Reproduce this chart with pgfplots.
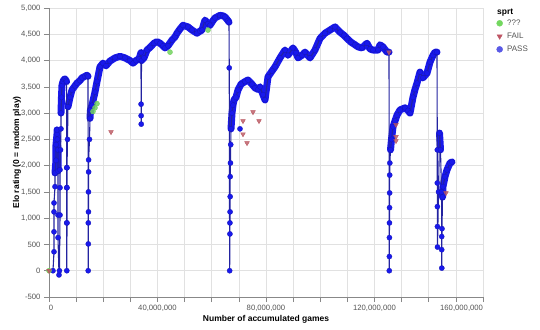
\documentclass[border=0pt]{standalone}
\usepackage{fontspec}
\setmainfont{Liberation Sans}
\usepackage{pgfplots}
\pgfplotsset{compat=1.18}
\definecolor{passblue}{RGB}{25,25,235}
\definecolor{passedge}{RGB}{20,20,185}
\definecolor{linenavy}{RGB}{35,35,160}
\definecolor{failred}{RGB}{185,85,95}
\definecolor{unkgreen}{RGB}{115,210,95}
\definecolor{gridgray}{RGB}{225,225,225}
\definecolor{axgray}{RGB}{136,136,136}
\definecolor{labgray}{RGB}{85,85,85}
\definecolor{legblue}{RGB}{90,90,230}
\definecolor{legred}{RGB}{190,85,100}
\definecolor{leggreen}{RGB}{115,215,95}
\begin{document}
\begin{tikzpicture}[x=1pt,y=1pt]
\begin{axis}[
  scale only axis, width=434pt, height=289pt,
  xmin=0, xmax=160, ymin=-500, ymax=5000,
  axis lines=left, axis line style={-, axgray, line width=0.8pt},
  xtick={0,40,80,120,160},
  xticklabels={{\makebox[0pt][l]{0}},{40,000,000},{80,000,000},{120,000,000},{\makebox[0pt][r]{160,000,000}}},
  minor xtick={10,20,30,50,60,70,90,100,110,130,140,150},
  ytick={-500,0,...,5000},
  yticklabels={-500,0,500,{1,000},{1,500},{2,000},{2,500},{3,000},{3,500},{4,000},{4,500},{5,000}},
  grid=both, grid style={gridgray, line width=0.6pt}, minor grid style={gridgray, line width=0.6pt},
  tick align=outside, major tick length=5pt, minor tick length=5pt,
  tick style={axgray, line width=0.6pt},
  ticklabel style={font=\fontsize{7.7}{9}\selectfont, text=labgray},
  xlabel={Number of accumulated games}, ylabel={Elo rating (0 = random play)},
  label style={font=\fontsize{8.5}{10}\selectfont\bfseries},
  xlabel style={at={([yshift=-22pt]axis description cs:0.5,0)}, anchor=center},
  ylabel style={at={([xshift=-32pt]axis description cs:0,0.5)}, anchor=center},
  clip=false,
  legend style={draw=none, fill=none, at={(rel axis cs:1.031,0.967)}, anchor=north west,
    inner sep=0pt, row sep=2pt, column sep=2.5pt, font=\fontsize{8}{9.5}\selectfont, text=labgray},
  legend cell align=left,
]
% dense bands
\addplot[passblue, line width=7pt, line join=round, line cap=round, forget plot] coordinates {
(2.21,1860)(2.58,2100)(2.58,2400)(2.95,2600)(2.95,2680)(3.10,2500)(3.32,2300)(3.32,1900)};
\addplot[passblue, line width=7pt, line join=round, line cap=round, forget plot] coordinates {
(4.42,3000)(4.60,3300)(4.79,3530)(5.16,3600)(5.53,3640)(5.90,3650)(6.27,3620)(6.50,3600)};
\addplot[passblue, line width=7pt, line join=round, line cap=round, forget plot] coordinates {
(7.00,3120)(7.74,3300)(8.48,3440)(9.59,3520)(10.32,3570)(11.43,3620)(12.17,3670)(13.27,3700)(14.01,3720)(14.38,3700)};
\addplot[passblue, line width=7pt, line join=round, line cap=round, forget plot] coordinates {
(15.12,2900)(15.30,3060)(15.85,3150)(16.96,3400)(17.70,3600)(18.80,3880)(19.91,3950)(21.01,3900)(22.49,3990)
(24.33,4050)(26.18,4080)(28.02,4050)(29.86,4000)(30.97,3950)(32.07,4000)(33.18,4030)(33.92,4150)(34.10,4000)
(35.02,4050)(36.13,4200)(37.24,4250)(38.71,4330)(39.82,4360)(40.92,4330)(42.03,4280)(42.76,4240)(43.87,4280)
(45.35,4390)(46.45,4450)(47.19,4520)(48.29,4600)(49.40,4670)(51.24,4640)(52.72,4580)(54.56,4520)(55.67,4560)
(56.41,4580)(57.51,4770)(58.62,4700)(59.35,4670)(60.46,4760)(61.20,4810)(63.04,4860)(64.15,4850)(64.88,4830)
(65.99,4760)(66.36,4730)};
\addplot[passblue, line width=7pt, line join=round, line cap=round, forget plot] coordinates {
(67.10,2700)(67.47,3000)(67.83,3150)(68.20,3250)(68.94,3300)(69.68,3440)(70.78,3550)(72.26,3600)(73.36,3630)
(74.84,3550)(75.94,3480)(77.05,3450)(77.79,3500)(78.89,3350)(79.63,3250)(80.74,3690)(82.21,3800)(83.32,3880)
(85.16,4050)(87.00,4200)(88.11,4100)(89.95,4240)(91.06,4150)(91.80,4050)(93.27,4100)(94.38,4160)(96.22,4050)
(98.06,4200)(99.91,4420)(101.75,4520)(103.59,4580)(105.44,4640)(107.28,4540)(108.76,4480)(109.86,4420)
(111.34,4350)(112.81,4300)(113.92,4260)(115.39,4240)(117.24,4330)(118.34,4220)(119.45,4200)(121.29,4200)
(122.03,4300)(123.13,4260)(124.61,4160)(125.35,4160)};
\addplot[passblue, line width=7pt, line join=round, line cap=round, forget plot] coordinates {
(125.90,2300)(126.27,2500)(126.82,2740)(127.56,2850)(128.29,2960)(129.40,3060)(131.24,3100)(132.35,3050)
(133.09,3000)(134.19,3300)(134.93,3450)(135.67,3570)(136.77,3780)(137.88,3670)(139.35,3760)(140.46,3970)
(141.57,4100)(142.30,4160)(143.04,4160)};
\addplot[passblue, line width=7pt, line join=round, line cap=round, forget plot] coordinates {
(143.97,2620)(144.33,2300)};
\addplot[passblue, line width=7pt, line join=round, line cap=round, forget plot] coordinates {
(145.07,1400)(145.25,1600)(145.99,1790)(146.73,1920)(147.83,2050)(148.57,2070)};
% main PASS line with points
\addplot[linenavy, line width=1.1pt, mark=*, mark size=2.6pt,
  mark options={fill=passblue, draw=passedge, line width=0.3pt}, forget plot] coordinates {
(1.47,0)(1.84,360)(1.84,740)(1.84,1120)(1.84,1290)(2.21,1600)(2.21,1860)(2.58,2100)(2.58,2400)(2.95,2600)
(2.95,2680)(3.10,2500)(3.32,2300)(3.32,1900)(3.32,1060)(3.32,630)(3.69,-80)(3.85,0)(4.06,1060)(4.06,1580)
(4.06,1920)(4.25,2300)(4.42,2700)(4.42,3000)(4.60,3300)(4.79,3530)(5.16,3600)(5.53,3640)(5.90,3650)(6.27,3620)
(6.50,3600)(6.53,1960)(6.53,1580)(6.53,910)(6.56,0)
(6.64,910)(6.64,1580)(6.64,1960)(6.82,2500)(7.00,3120)(7.74,3300)(8.48,3440)(9.59,3520)(10.32,3570)(11.43,3620)
(12.17,3670)(13.27,3700)(14.01,3720)(14.38,3700)(14.45,0)
(14.49,510)(14.49,910)(14.55,1120)(14.55,1500)(14.60,1880)(14.60,2110)(14.93,2500)(15.12,2900)(15.30,3060)
(15.85,3150)(16.96,3400)(17.70,3600)(18.80,3880)(19.91,3950)(21.01,3900)(22.49,3990)(24.33,4050)(26.18,4080)
(28.02,4050)(29.86,4000)(30.97,3950)(32.07,4000)(33.18,4030)(33.92,4150)(33.95,3170)(33.97,2950)(34.00,2790)
(34.10,4000)(35.02,4050)(36.13,4200)(37.24,4250)(38.71,4330)(39.82,4360)(40.92,4330)(42.03,4280)(42.76,4240)
(43.87,4280)(45.35,4390)(46.45,4450)(47.19,4520)(48.29,4600)(49.40,4670)(51.24,4640)(52.72,4580)(54.56,4520)
(55.67,4560)(56.41,4580)(57.51,4770)(58.62,4700)(59.35,4670)(60.46,4760)(61.20,4810)(63.04,4860)(64.15,4850)
(64.88,4830)(65.99,4760)(66.36,4730)(66.45,3860)(66.60,0)
(66.70,700)(66.70,910)(66.75,1120)(66.80,1410)(66.80,1790)(66.90,2050)(67.00,2400)(67.10,2700)(67.47,3000)
(67.83,3150)(68.20,3250)(68.94,3300)(69.68,3440)(70.78,3550)(72.26,3600)(73.36,3630)(74.84,3550)(75.94,3480)
(77.05,3450)(77.79,3500)(78.89,3350)(79.63,3250)(80.74,3690)(82.21,3800)(83.32,3880)(85.16,4050)(87.00,4200)
(88.11,4100)(89.95,4240)(91.06,4150)(91.80,4050)(93.27,4100)(94.38,4160)(96.22,4050)(98.06,4200)(99.91,4420)
(101.75,4520)(103.59,4580)(105.44,4640)(107.28,4540)(108.76,4480)(109.86,4420)(111.34,4350)(112.81,4300)
(113.92,4260)(115.39,4240)(117.24,4330)(118.34,4220)(119.45,4200)(121.29,4200)(122.03,4300)(123.13,4260)
(124.61,4160)(125.35,4160)(125.45,0)
(125.48,270)(125.50,630)(125.52,910)(125.55,1200)(125.58,1480)(125.60,1820)(125.65,2050)(125.90,2300)
(126.27,2500)(126.82,2740)(127.56,2850)(128.29,2960)(129.40,3060)(131.24,3100)(132.35,3050)(133.09,3000)
(134.19,3300)(134.93,3450)(135.67,3570)(136.77,3780)(137.88,3670)(139.35,3760)(140.46,3970)(141.57,4100)
(142.30,4160)(143.04,4160)(143.15,2300)(143.15,1670)(143.18,1220)(143.20,840)(143.22,450)(143.60,1500)
(143.97,2620)(144.33,2300)(144.70,1500)(144.78,650)(144.78,400)(144.81,50)
(144.88,800)(145.07,1400)(145.25,1600)(145.99,1790)(146.73,1920)(147.83,2050)(148.57,2070)};
\addplot[only marks, mark=*, mark size=2.6pt, mark options={fill=passblue, draw=passedge, line width=0.3pt}, forget plot]
 coordinates {(70.41,2700)};
% ??? points
\addplot[only marks, mark=*, mark size=2.5pt, mark options={fill=unkgreen, draw=unkgreen, fill opacity=0.85}, forget plot]
 coordinates {(0,0)(16.22,3030)(16.96,3100)(17.70,3180)(44.61,4160)(58.62,4580)};
% FAIL points
\addplot[only marks, mark=triangle*, mark size=2.7pt, mark options={rotate=180, fill=failred, draw=failred, fill opacity=0.8}, forget plot]
 coordinates {(0,0)(22.86,2640)(75.21,3020)(71.52,2850)(77.42,2850)(71.52,2600)(73.00,2430)(125.35,4160)
 (127.93,2780)(127.93,2550)(127.93,2470)(146.36,1480)};
% legend
\addlegendimage{only marks, mark=*, mark size=3pt, mark options={fill=leggreen, draw=leggreen}}
\addlegendentry{???}
\addlegendimage{only marks, mark=triangle*, mark size=3pt, mark options={rotate=180, fill=legred, draw=legred}}
\addlegendentry{FAIL}
\addlegendimage{only marks, mark=*, mark size=3pt, mark options={fill=legblue, draw=legblue}}
\addlegendentry{PASS}
\node[anchor=north west, inner sep=0pt, font=\fontsize{8.5}{10}\selectfont\bfseries] at (rel axis cs:1.032,0.997) {sprt};
\end{axis}
\pgfresetboundingbox
\path (-49,-32) rectangle (491,297);
\end{tikzpicture}
\end{document}
